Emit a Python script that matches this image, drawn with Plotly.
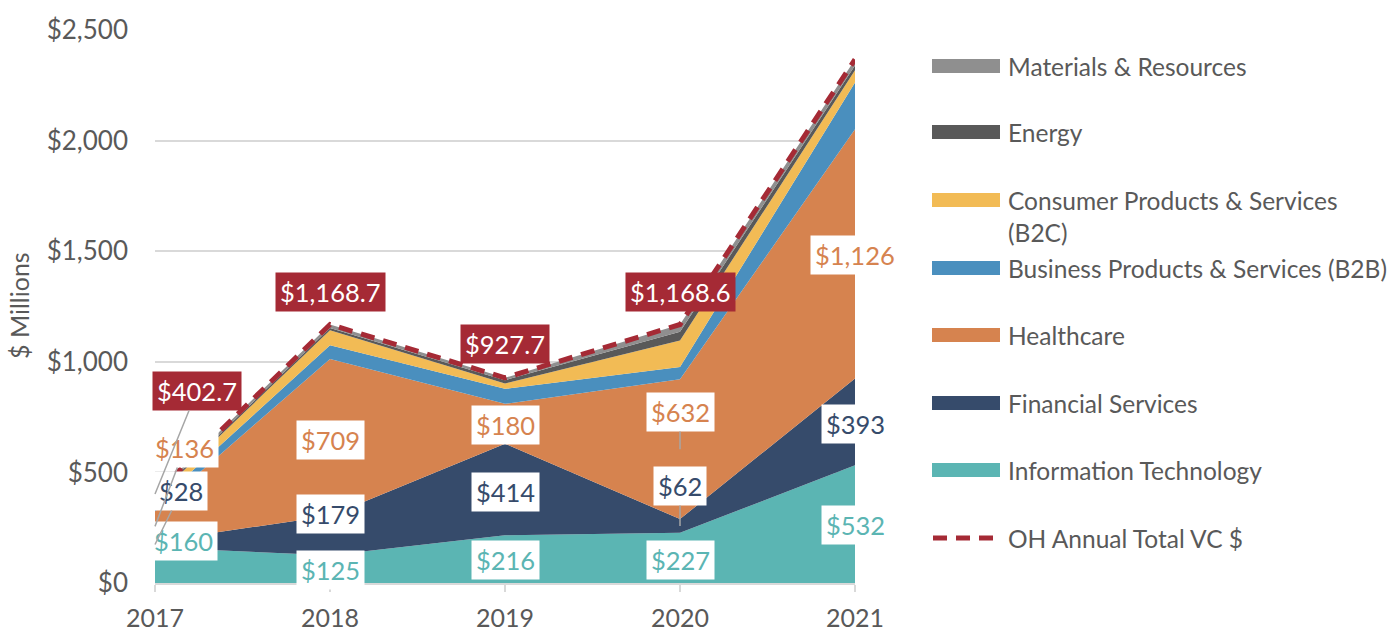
import plotly.graph_objects as go

years = [2017, 2018, 2019, 2020, 2021]
it_vals = [160, 125, 216, 227, 532]
fs_vals = [28, 179, 414, 62, 393]
hc_vals = [136, 709, 180, 632, 1126]
b2b_vals = [30, 62, 68, 55, 212]
b2c_vals = [30, 68, 24, 120, 55]
energy_vals = [8, 10, 15, 40, 22]
materials_vals = [10.7, 15.7, 10.7, 32.6, 27.2]
totals = [402.7, 1168.7, 927.7, 1168.6, 2367.2]

series = [
    ("Information Technology", it_vals, "#5BB5B3"),
    ("Financial Services", fs_vals, "#364B6B"),
    ("Healthcare", hc_vals, "#D6834F"),
    ("Business Products & Services (B2B)", b2b_vals, "#4A8FBE"),
    ("Consumer Products & Services (B2C)", b2c_vals, "#F2BB55"),
    ("Energy", energy_vals, "#595959"),
    ("Materials & Resources", materials_vals, "#8F8F8F"),
]
RED = "#A52A35"
GREY_TXT = "#595959"
FONT = "Lato"

fig = go.Figure()
for name, vals, col in series:
    fig.add_trace(go.Scatter(
        x=years, y=vals, name=name, mode="lines", stackgroup="one",
        line=dict(width=0, color=col), fillcolor=col, showlegend=False,
        hoverinfo="skip"))
fig.add_trace(go.Scatter(
    x=years, y=totals, name="OH Annual Total VC $", mode="lines",
    line=dict(color=RED, width=5, dash="14px,9px"), showlegend=False))

# label positions (layout only): (x, y) in axis units
it_pos = [(2017.16, 190), (2018, 59), (2019, 104), (2020, 104), (2021, 262)]
fs_pos = [(2017.15, 416), (2018, 312), (2019, 411), (2020, 438), (2021, 719)]
hc_pos = [(2017.17, 610), (2018, 646), (2019, 714), (2020, 773), (2021, 1483)]
tot_pos = [(2017.24, 868), (2018, 1316), (2019, 1080), (2020, 1316), (2021, 2523)]
fs_leader = [True, False, False, True, False]
hc_leader = [True, False, False, True, False]
tot_leader = [True, False, False, False, False]

annotations = []

def add_label(xp, yp, text, color, bg, point=None):
    a = dict(x=xp, y=yp, xref="x", yref="y", text=text, showarrow=False,
             font=dict(family=FONT, size=25.5, color=color), bgcolor=bg,
             borderpad=4)
    if point is not None:
        a.update(dict(x=point[0], y=point[1], ax=xp, ay=yp, axref="x", ayref="y",
                      showarrow=True, arrowhead=0, arrowwidth=1.5,
                      arrowcolor="#A6A6A6", standoff=0))
    annotations.append(a)

for i, yr in enumerate(years):
    xp, yp = it_pos[i]
    add_label(xp, yp, f"${it_vals[i]:,.0f}", "#5BB5B3", "white")
    xp, yp = fs_pos[i]
    pt = (yr, it_vals[i] + fs_vals[i] / 2) if fs_leader[i] else None
    add_label(xp, yp, f"${fs_vals[i]:,.0f}", "#364B6B", "white", pt)
    xp, yp = hc_pos[i]
    pt = (yr, it_vals[i] + fs_vals[i] + hc_vals[i] / 2) if hc_leader[i] else None
    add_label(xp, yp, f"${hc_vals[i]:,.0f}", "#D6834F", "white", pt)
    xp, yp = tot_pos[i]
    pt = (yr, totals[i]) if tot_leader[i] else None
    add_label(xp, yp, f"${totals[i]:,.1f}", "white", RED, pt)

PL, PR, PT, PB = 155, 855, 30, 583
def px(x):
    return (x - PL) / (PR - PL)
def py(y):
    return (PB - y) / (PB - PT)

annotations.append(dict(x=px(19), y=py(306), xref="paper", yref="paper", text="$ Millions",
                        showarrow=False, textangle=-90, xanchor="center", yanchor="middle",
                        font=dict(family=FONT, size=25, color=GREY_TXT)))

legend_items = [
    ("Materials & Resources", "#8F8F8F", 66, None),
    ("Energy", "#595959", 132, None),
    ("Consumer Products & Services", "#F2BB55", 200, "(B2C)"),
    ("Business Products & Services (B2B)", "#4A8FBE", 268, None),
    ("Healthcare", "#D6834F", 335, None),
    ("Financial Services", "#364B6B", 403, None),
    ("Information Technology", "#5BB5B3", 470, None),
]
LEG_SIZE = 24.5
shapes = []
for text, col, yc, extra in legend_items:
    shapes.append(dict(type="rect", xref="paper", yref="paper",
                       x0=px(932), x1=px(1000), y0=py(yc + 7), y1=py(yc - 7),
                       fillcolor=col, line=dict(width=0)))
    annotations.append(dict(x=px(1006), y=py(yc), xref="paper", yref="paper",
                            text=text, showarrow=False, xanchor="left", yanchor="middle",
                            font=dict(family=FONT, size=LEG_SIZE, color=GREY_TXT)))
    if extra:
        annotations.append(dict(x=px(1006), y=py(yc + 33), xref="paper", yref="paper",
                                text=extra, showarrow=False, xanchor="left",
                                yanchor="middle",
                                font=dict(family=FONT, size=LEG_SIZE, color=GREY_TXT)))
shapes.append(dict(type="line", xref="paper", yref="paper",
                   x0=px(933), x1=px(999), y0=py(538), y1=py(538),
                   line=dict(color=RED, width=5, dash="14px,9px")))
annotations.append(dict(x=px(1006), y=py(538), xref="paper", yref="paper",
                        text="OH Annual Total VC $", showarrow=False, xanchor="left",
                        yanchor="middle", font=dict(family=FONT, size=LEG_SIZE, color=GREY_TXT)))

fig.update_layout(
    width=1390, height=637,
    margin=dict(l=PL, r=1390 - PR, t=PT, b=637 - PB, pad=0, autoexpand=False),
    plot_bgcolor="white", paper_bgcolor="white",
    font=dict(family=FONT, color=GREY_TXT),
    annotations=annotations, shapes=shapes,
    xaxis=dict(range=[2017, 2021], tickvals=years, ticks="outside", ticklen=7,
               tickcolor="#D9D9D9", tickwidth=2, showline=True, linecolor="#D9D9D9",
               linewidth=2, showgrid=False, zeroline=False, automargin=False,
               tickfont=dict(family=FONT, size=25, color=GREY_TXT),
               ticklabelstandoff=5),
    yaxis=dict(range=[0, 2500], dtick=500, tickprefix="$", tickformat=",",
               showgrid=True, gridcolor="#D9D9D9", gridwidth=1.5, zeroline=False,
               showline=False, ticks="", automargin=False,
               tickfont=dict(family=FONT, size=26, color=GREY_TXT),
               ticklabelstandoff=26),
)

fig.write_html("out.html", config={"displayModeBar": False},
               post_script="document.body.style.margin='0';document.body.style.padding='0';")
